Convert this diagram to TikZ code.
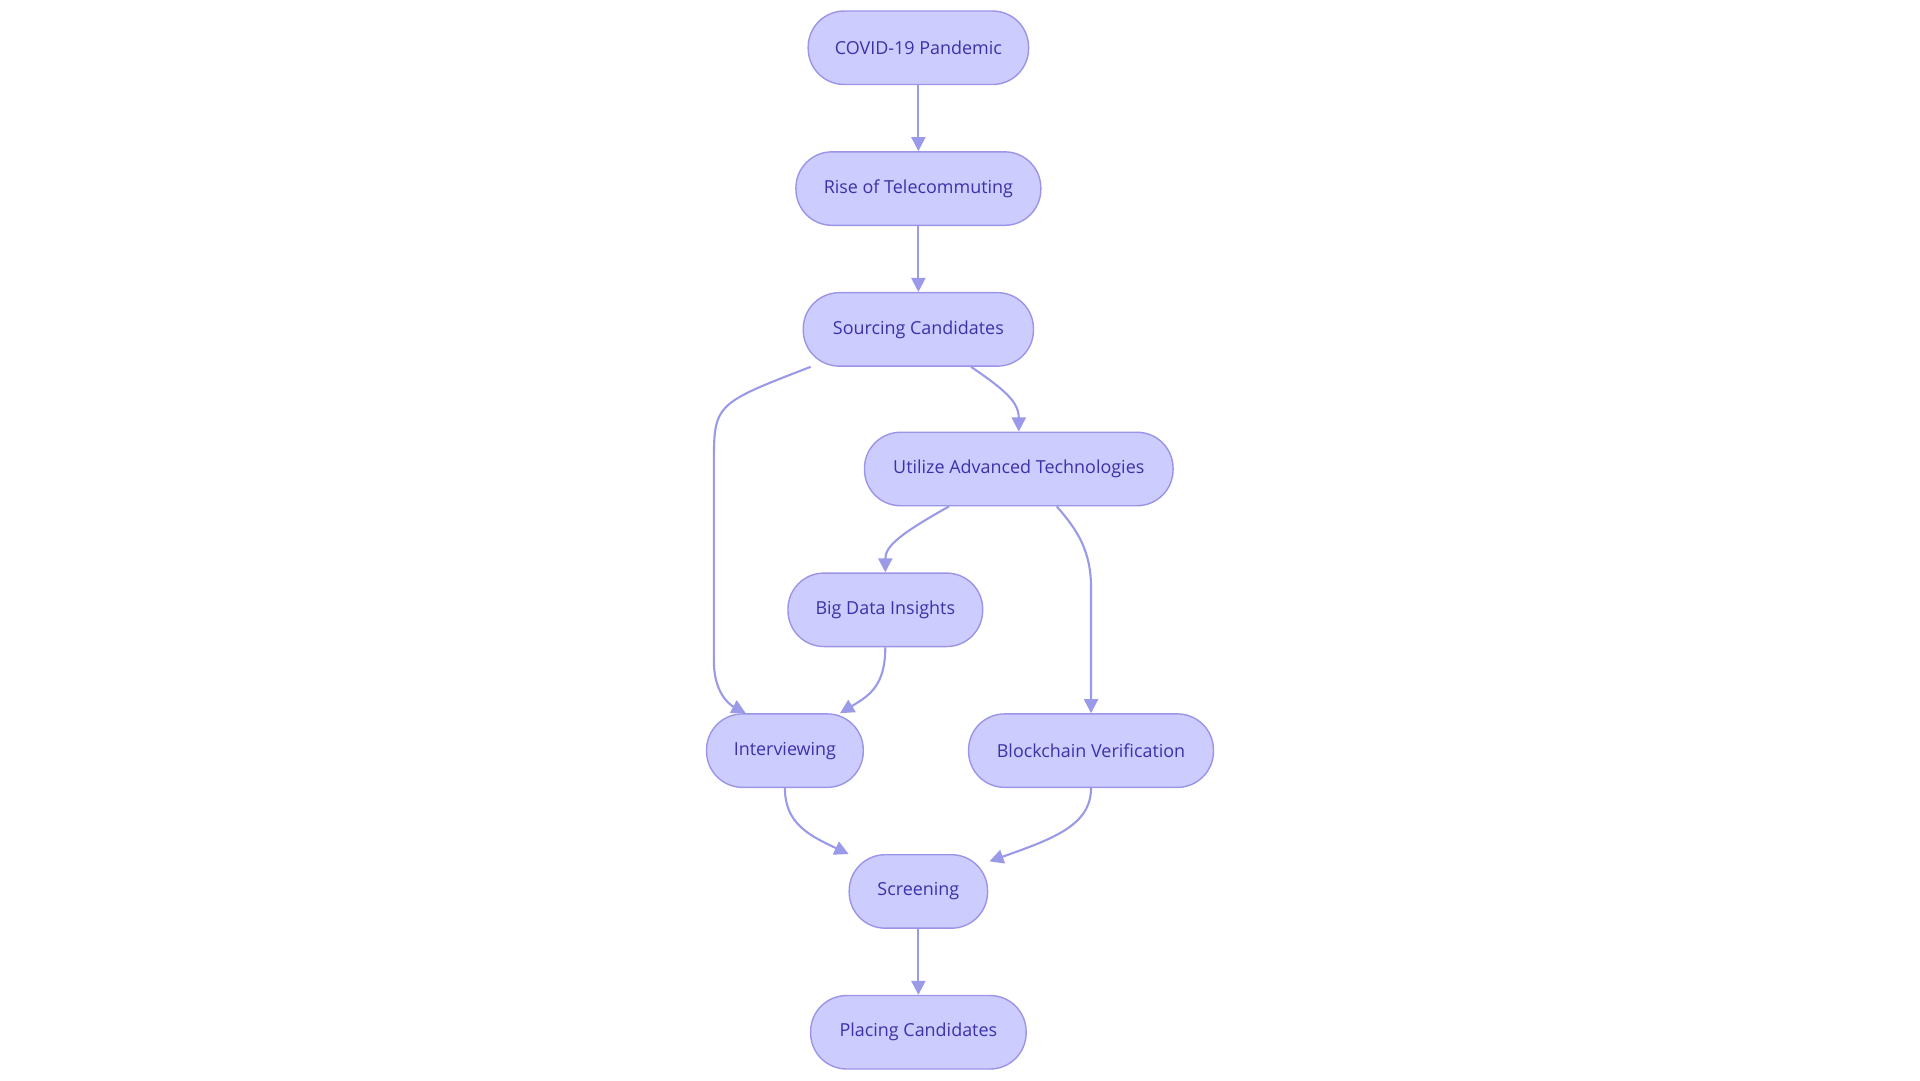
\documentclass[tikz,border=0pt]{standalone}
\usepackage{fontspec}
\setmainfont{Open Sans}
\usetikzlibrary{arrows.meta}
\definecolor{nfill}{HTML}{CCCCFF}
\definecolor{nborder}{HTML}{9C94E6}
\definecolor{ntext}{HTML}{3C32A8}
\definecolor{edge}{HTML}{9A9AE8}
\begin{document}
\begin{tikzpicture}[x=0.012245cm,y=-0.012245cm,
  box/.style={draw=nborder,fill=nfill,text=ntext,rounded corners=0.36cm,minimum height=60*0.012245cm,font=\fontsize{5.1pt}{6.1pt}\selectfont,inner sep=0pt,line width=0.4pt},
  conn/.style={draw=edge,line width=0.6pt,-{Triangle[length=4pt,width=4pt]}}]
\useasboundingbox (0,0) rectangle (1568,882);
\node[box,minimum width=180*0.012245cm] (covid) at (750,39) {COVID-19 Pandemic};
\node[box,minimum width=200*0.012245cm] (rise) at (750,154) {Rise of Telecommuting};
\node[box,minimum width=188*0.012245cm] (src) at (750,269) {Sourcing Candidates};
\node[box,minimum width=252*0.012245cm] (util) at (832,383) {Utilize Advanced Technologies};
\node[box,minimum width=159*0.012245cm] (big) at (723,498) {Big Data Insights};
\node[box,minimum width=128*0.012245cm] (intv) at (641,613) {Interviewing};
\node[box,minimum width=200*0.012245cm] (block) at (891,613) {Blockchain Verification};
\node[box,minimum width=113*0.012245cm] (scr) at (750,728) {Screening};
\node[box,minimum width=176*0.012245cm] (place) at (750,843) {Placing Candidates};
\draw[conn] (covid) -- (rise);
\draw[conn] (rise) -- (src);
\draw[conn] (scr) -- (place);
\draw[conn] ([xshift=-88*0.012245cm]src.south) .. controls (583,330) and (583,330) .. (583,380) -- (583,540) .. controls (583,565) and (595,575) .. ([xshift=-32*0.012245cm]intv.north);
\draw[conn] ([xshift=43*0.012245cm]src.south) .. controls (820,318) and (832,328) .. (util.north);
\draw[conn] ([xshift=-57*0.012245cm]util.south) .. controls (735,436) and (723,446) .. (big.north);
\draw[conn] ([xshift=31*0.012245cm]util.south) .. controls (880,433) and (891,450) .. (891,480) -- (block.north);
\draw[conn] (big.south) .. controls (723,560) and (710,568) .. ([xshift=45*0.012245cm]intv.north);
\draw[conn] (intv.south) .. controls (641,672) and (660,682) .. ([xshift=-57*0.012245cm]scr.north);
\draw[conn] (block.south) .. controls (891,674) and (860,685) .. ([xshift=58*0.012245cm,yshift=-6*0.012245cm]scr.north);
\end{tikzpicture}
\end{document}
